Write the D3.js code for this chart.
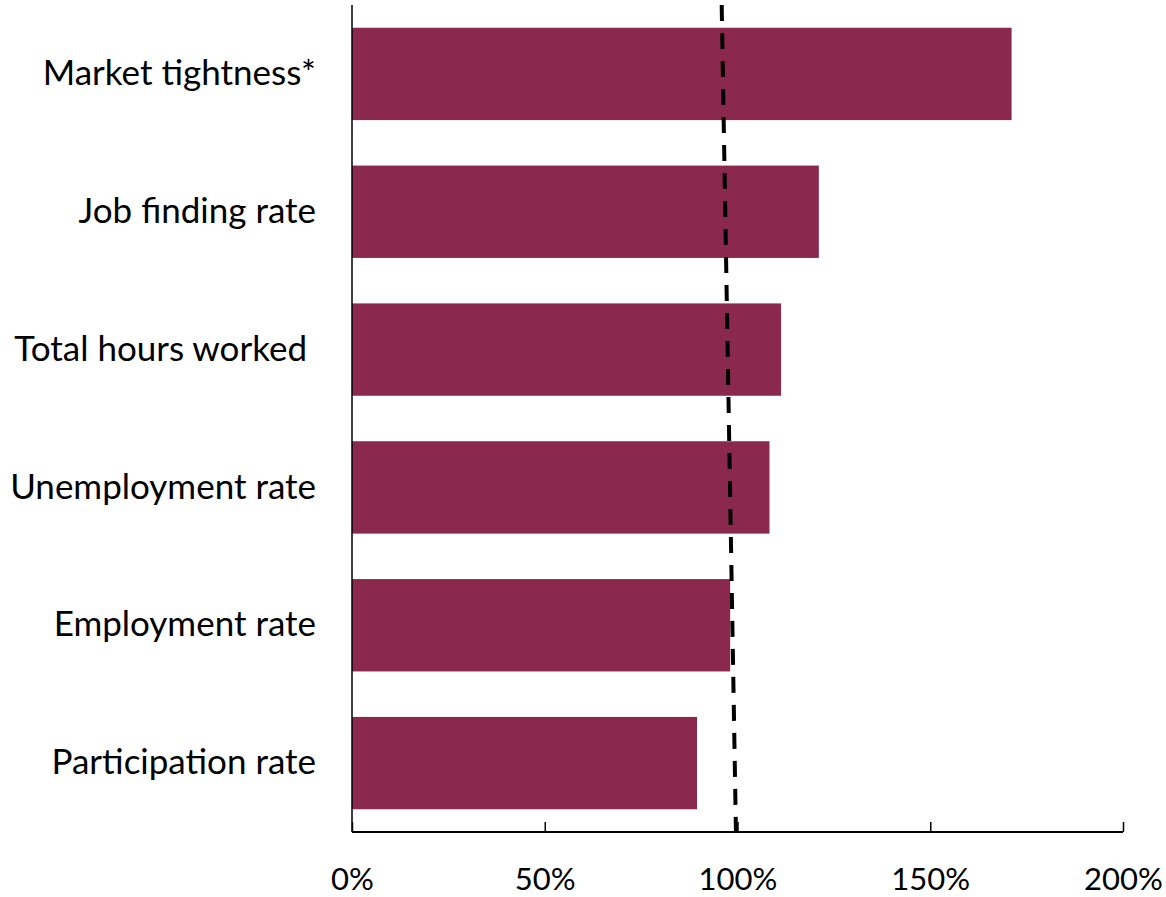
<!DOCTYPE html>
<html>
<head>
<meta charset="utf-8">
<script src="https://cdn.jsdelivr.net/npm/d3@7"></script>
<style>
  body { margin: 0; background: #fff; }
  svg text { font-family: Lato, "Open Sans", sans-serif; fill: #000; }
</style>
</head>
<body>
<div id="chart"></div>
<script>
// categories top to bottom
const categorias = ["Market tightness*", "Job finding rate", "Total hours worked ", "Unemployment rate", "Employment rate", "Participation rate"];
const valores = [171.1, 121.1, 111.3, 108.3, 98.1, 89.5];
const ticks = [0, 50, 100, 150, 200];
// dashed reference line: value at top and at bottom of the plot
const referencia = [95.9, 99.6];

const width = 1166, height = 897;
const margin = { top: 5, right: 43, bottom: 65, left: 352 };

const svg = d3.select("#chart").append("svg")
  .attr("width", width)
  .attr("height", height);

const x = d3.scaleLinear().domain([0, 200]).range([margin.left, width - margin.right]);
const y = d3.scaleBand().domain(categorias)
  .range([margin.top, height - margin.bottom])
  .paddingInner(0.33)
  .paddingOuter(0.165);

svg.selectAll("rect.bar")
  .data(valores)
  .enter()
  .append("rect")
  .attr("class", "bar")
  .attr("x", x(0))
  .attr("y", (d, i) => y(categorias[i]))
  .attr("width", d => x(d) - x(0))
  .attr("height", y.bandwidth())
  .attr("fill", "#8a294d");

// x axis
const xAxis = svg.append("g")
  .attr("transform", `translate(0,${height - margin.bottom})`)
  .call(d3.axisBottom(x).tickValues(ticks).tickSize(-10).tickPadding(36).tickFormat(d => d + "%"));
xAxis.select(".domain").attr("stroke", "#000").attr("stroke-width", 2).attr("d", `M${x(0)},0H${x(200)}`);
xAxis.selectAll(".tick line").attr("stroke", "#000").attr("stroke-width", 1.5);
xAxis.selectAll(".tick text").style("font-size", "31px").attr("dy", "0.71em");

// y axis
const yAxis = svg.append("g")
  .attr("transform", `translate(${x(0)},0)`)
  .call(d3.axisLeft(y).tickSize(0).tickPadding(36));
yAxis.select(".domain").attr("stroke", "#000").attr("stroke-width", 1.5)
  .attr("d", `M0,${margin.top}V${height - margin.bottom}`);
yAxis.selectAll(".tick text").style("font-size", "35px").style("white-space", "pre");

// dashed line
svg.append("line")
  .attr("x1", x(referencia[0]))
  .attr("y1", margin.top)
  .attr("x2", x(referencia[1]))
  .attr("y2", height - margin.bottom)
  .attr("stroke", "#000")
  .attr("stroke-width", 4)
  .attr("stroke-dasharray", "16,12");
</script>
</body>
</html>
